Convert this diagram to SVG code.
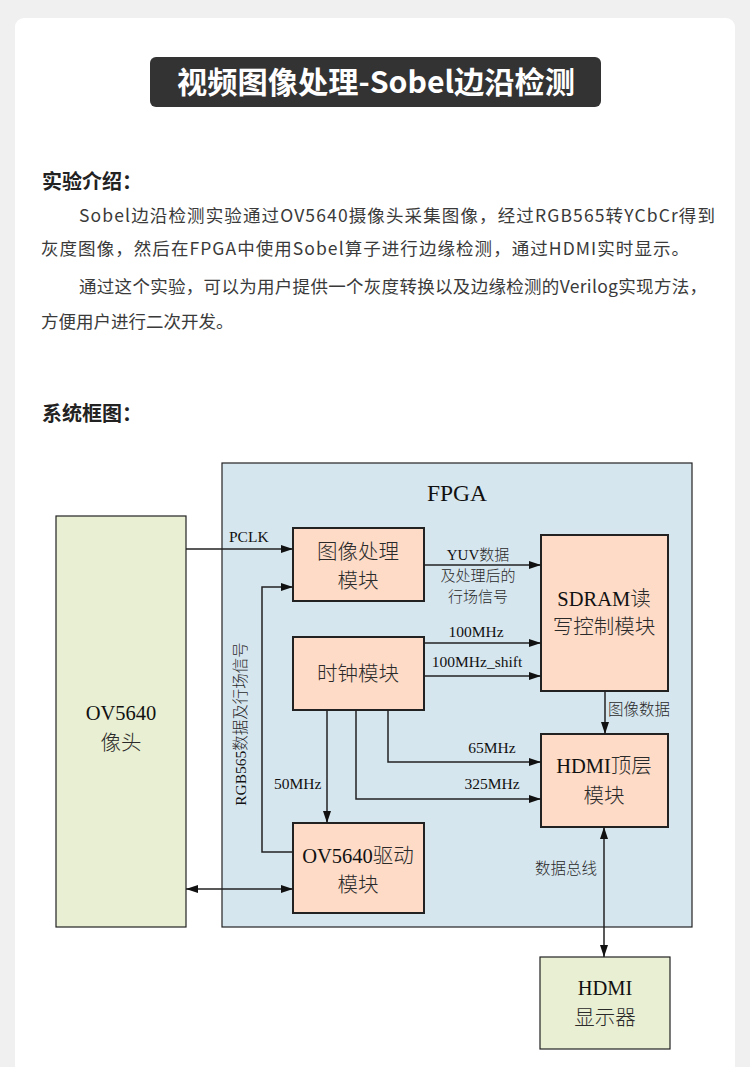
<svg xmlns="http://www.w3.org/2000/svg" width="750" height="1067" viewBox="0 0 750 1067">
<defs>
<style>
.title{font-family:"Noto Sans CJK SC","Noto Sans",sans-serif;font-weight:bold;font-size:30px;fill:#ffffff}
.head{font-family:"Noto Sans CJK SC","Noto Sans",sans-serif;font-weight:bold;font-size:20px;fill:#222222}
.body{font-family:"Noto Sans CJK SC","Noto Sans",sans-serif;font-size:17.5px;fill:#3a3a3a}
.dt{font-family:"Liberation Serif",serif;font-size:20.5px;fill:#111111;text-anchor:middle}
.lb{font-family:"Liberation Serif",serif;font-size:15px;fill:#111111}
.c{font-family:"Noto Sans CJK SC",sans-serif;font-weight:300;fill:#2a2a2a}
.mid{text-anchor:middle}
.end{text-anchor:end}
.peach{fill:#fddbc7;stroke:#222222;stroke-width:2}
.green{fill:#e9efd2;stroke:#222222;stroke-width:1.2}
.fpga{fill:#d6e6ef;stroke:#222222;stroke-width:1.2}
.ln{fill:none;stroke:#222222;stroke-width:1.5}
</style>
<marker id="ah" viewBox="0 0 12 8" refX="12" refY="4" markerWidth="12" markerHeight="8" markerUnits="userSpaceOnUse" orient="auto-start-reverse">
<path d="M0,0 L12,4 L0,8 z" fill="#111111"/>
</marker>
</defs>
<rect x="0" y="0" width="750" height="1067" fill="#f0f0f0"/>
<rect x="15" y="18" width="720" height="1070" rx="9" fill="#ffffff"/>
<g id="title">
<rect x="150" y="57" width="451" height="50" rx="6" fill="#333333"/>
<text class="title" x="376" y="93" text-anchor="middle" textLength="398" lengthAdjust="spacingAndGlyphs">视频图像处理-Sobel边沿检测</text>
</g>
<g id="intro">
<text class="head" x="42" y="189">实验介绍：</text>
<text class="body" x="79" y="222" textLength="636" lengthAdjust="spacing">Sobel边沿检测实验通过OV5640摄像头采集图像，经过RGB565转YCbCr得到</text>
<text class="body" x="41" y="255" textLength="648" lengthAdjust="spacing">灰度图像，然后在FPGA中使用Sobel算子进行边缘检测，通过HDMI实时显示。</text>
<text class="body" x="79" y="293" textLength="628" lengthAdjust="spacing">通过这个实验，可以为用户提供一个灰度转换以及边缘检测的Verilog实现方法，</text>
<text class="body" x="41" y="328">方便用户进行二次开发。</text>
<text class="head" x="42" y="421">系统框图：</text>
</g>
<g id="fpga">
<rect class="fpga" x="222" y="463" width="470" height="464"/>
<text class="dt" x="457" y="501" style="font-size:23.5px">FPGA</text>
</g>
<g id="ov5640">
<rect class="green" x="56" y="516" width="130" height="411"/>
<text class="dt" x="121" y="720">OV5640</text>
<text class="dt" x="121" y="750"><tspan class="c">像头</tspan></text>
</g>
<g id="image-proc">
<rect class="peach" x="293" y="528" width="131" height="73"/>
<text class="dt" x="358" y="559"><tspan class="c">图像处理</tspan></text>
<text class="dt" x="358" y="588"><tspan class="c">模块</tspan></text>
</g>
<g id="sdram">
<rect class="peach" x="541" y="535" width="127" height="156"/>
<text class="dt" x="604" y="606">SDRAM<tspan class="c">读</tspan></text>
<text class="dt" x="604" y="634"><tspan class="c">写控制模块</tspan></text>
</g>
<g id="clock">
<rect class="peach" x="293" y="637" width="131" height="73"/>
<text class="dt" x="358" y="681"><tspan class="c">时钟模块</tspan></text>
</g>
<g id="hdmi-top">
<rect class="peach" x="541" y="734" width="127" height="93"/>
<text class="dt" x="604" y="773">HDMI<tspan class="c">顶层</tspan></text>
<text class="dt" x="604" y="803"><tspan class="c">模块</tspan></text>
</g>
<g id="ov-driver">
<rect class="peach" x="293" y="823" width="131" height="90"/>
<text class="dt" x="358" y="863">OV5640<tspan class="c">驱动</tspan></text>
<text class="dt" x="358" y="892"><tspan class="c">模块</tspan></text>
</g>
<g id="hdmi-display">
<rect class="green" x="540" y="957" width="130" height="92"/>
<text class="dt" x="605" y="995">HDMI</text>
<text class="dt" x="605" y="1025"><tspan class="c">显示器</tspan></text>
</g>
<g id="connectors">
<path class="ln" d="M186,549 H293" marker-end="url(#ah)"/>
<path class="ln" d="M293,852 H262 V587 H293" marker-end="url(#ah)"/>
<path class="ln" d="M424,565 H541" marker-end="url(#ah)"/>
<path class="ln" d="M424,643 H541" marker-end="url(#ah)"/>
<path class="ln" d="M424,676 H541" marker-end="url(#ah)"/>
<path class="ln" d="M605,691 V734" marker-end="url(#ah)"/>
<path class="ln" d="M388,710 V762 H541" marker-end="url(#ah)"/>
<path class="ln" d="M356,710 V799 H541" marker-end="url(#ah)"/>
<path class="ln" d="M327,710 V823" marker-end="url(#ah)"/>
<path class="ln" d="M186,889 H293" marker-start="url(#ah)" marker-end="url(#ah)"/>
<path class="ln" d="M604,827 V957" marker-start="url(#ah)" marker-end="url(#ah)"/>
<text class="lb" x="229" y="542" style="font-size:15.5px">PCLK</text>
<text class="lb mid" x="478" y="560">YUV<tspan class="c">数据</tspan></text>
<text class="lb mid" x="478" y="581"><tspan class="c">及处理后的</tspan></text>
<text class="lb mid" x="478" y="602"><tspan class="c">行场信号</tspan></text>
<text class="lb mid" x="476" y="637" style="font-size:15.5px">100MHz</text>
<text class="lb mid" x="477" y="667" style="font-size:15.5px">100MHz_shift</text>
<text class="lb" x="608" y="715" style="font-size:15.5px"><tspan class="c">图像数据</tspan></text>
<text class="lb mid" x="492" y="753" style="font-size:15.5px">65MHz</text>
<text class="lb mid" x="492" y="789" style="font-size:15.5px">325MHz</text>
<text class="lb" x="274" y="789" style="font-size:15.5px">50MHz</text>
<text class="lb mid" transform="translate(246,724) rotate(-90)" x="0" y="0" style="font-size:15.5px">RGB565<tspan class="c">数据及行场信号</tspan></text>
<text class="lb end" x="597" y="874" style="font-size:15.5px"><tspan class="c">数据总线</tspan></text>
</g>
</svg>
